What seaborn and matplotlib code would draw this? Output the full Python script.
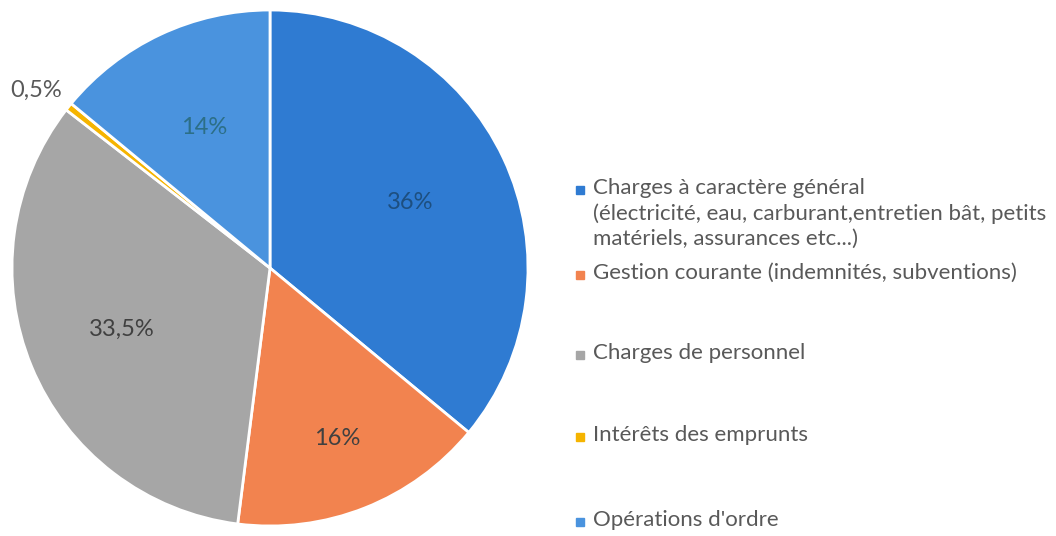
import matplotlib
matplotlib.use("Agg")
import matplotlib.pyplot as plt
import numpy as np
import seaborn as sns

categories = [
    "Charges à caractère général\n(électricité, eau, carburant,entretien bât, petits\nmatériels, assurances etc...)",
    "Gestion courante (indemnités, subventions)",
    "Charges de personnel",
    "Intérêts des emprunts",
    "Opérations d'ordre",
]
shares = [36, 16, 33.5, 0.5, 14]
pct_labels = ["36%", "16%", "33,5%", "0,5%", "14%"]
colors = ["#2f7bd2", "#f2834f", "#a6a6a6", "#f5b400", "#4a93de"]
label_colors = ["#1d4f80", "#404040", "#404040", "#595959", "#2c6f87"]
label_dist = [0.6, 0.71, 0.62, 1.14, 0.6]
legend_y = [190, 275, 355, 437, 522]  # pixel rows from top

sns.set_theme(style="white")
plt.rcParams["font.family"] = ["Lato", "DejaVu Sans"]

W, H = 1056, 536
fig = plt.figure(figsize=(W / 100, H / 100), dpi=100)
cx, cy, r = 270, 268, 258
ax = fig.add_axes([(cx - r) / W, (H - cy - r) / H, 2 * r / W, 2 * r / H])

wedges, _ = ax.pie(
    shares,
    colors=colors,
    startangle=90,
    counterclock=False,
    radius=1,
    wedgeprops=dict(edgecolor="white", linewidth=2),
)
ax.set_xlim(-1, 1)
ax.set_ylim(-1, 1)
ax.set_aspect("equal")
ax.axis("off")

for w, lab, col, d in zip(wedges, pct_labels, label_colors, label_dist):
    mid = np.deg2rad((w.theta1 + w.theta2) / 2 + (1.5 if d > 1 else 0))
    ax.text(d * np.cos(mid), d * np.sin(mid), lab, ha="center", va="center",
            fontsize=17, color=col)

for cat, col, y in zip(categories, colors, legend_y):
    fig.patches.append(plt.Rectangle((576 / W, 1 - (y + 4) / H), 8 / W, 8 / H,
                                     transform=fig.transFigure, color=col))
    fig.text(593 / W, 1 - (y - 12) / H, cat, ha="left", va="top", fontsize=16,
             color="#595959", linespacing=1.32)

fig.savefig("out.png", dpi=100)
